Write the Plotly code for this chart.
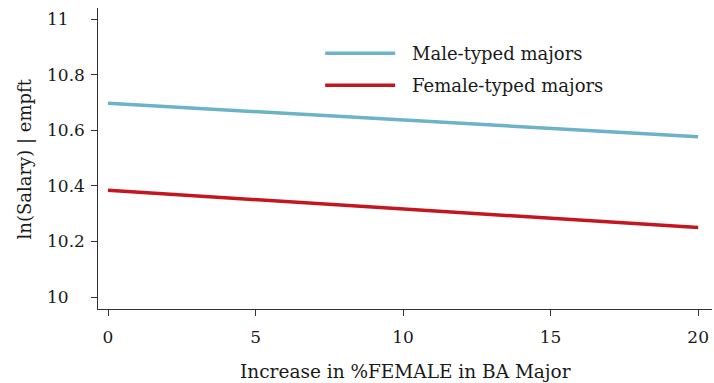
import plotly.graph_objects as go

# linear predictions at the ends of the %FEMALE range
pct_female = [0, 20]
male_typed = [10.697, 10.577]
female_typed = [10.384, 10.250]

series_names = ["Male-typed majors", "Female-typed majors"]
series_colors = ["#6CB2C9", "#C3161E"]

x_ticks = [0, 5, 10, 15, 20]
y_ticks = [10, 10.2, 10.4, 10.6, 10.8, 11]
y_tick_text = ["10", "10.2", "10.4", "10.6", "10.8", "11"]

FONT = "DejaVu Serif"
INK = "#1a1a1a"

fig = go.Figure()
for ys, name, col in zip([male_typed, female_typed], series_names, series_colors):
    fig.add_trace(
        go.Scatter(
            x=pct_female,
            y=ys,
            mode="lines",
            name=name,
            line=dict(color=col, width=3.5),
            showlegend=False,
        )
    )

# hand-drawn legend (Stata style long keys)
for i, (name, col) in enumerate(zip(series_names, series_colors)):
    yy = 0.85 - i * 0.107
    fig.add_shape(
        type="line", xref="paper", yref="paper",
        x0=0.37, x1=0.484, y0=yy, y1=yy,
        line=dict(color=col, width=3.5),
    )
    fig.add_annotation(
        xref="paper", yref="paper", x=0.508, y=yy, text=name,
        showarrow=False, xanchor="left", yanchor="middle",
        font=dict(family=FONT, size=18, color=INK),
    )

# y tick labels are left aligned in the original
for v, t in zip(y_ticks, y_tick_text):
    fig.add_annotation(
        xref="paper", yref="y", x=-0.087, y=v, text=t,
        showarrow=False, xanchor="left", yanchor="middle",
        font=dict(family=FONT, size=17, color=INK),
    )

# axis titles
fig.add_annotation(
    xref="paper", yref="paper", x=-0.119, y=0.5, text="ln(Salary) | empft",
    textangle=-90, showarrow=False, xanchor="center", yanchor="middle",
    font=dict(family=FONT, size=18, color=INK),
)
fig.add_annotation(
    xref="paper", yref="paper", x=0.5, y=-0.209, text="Increase in %FEMALE in BA Major",
    showarrow=False, xanchor="center", yanchor="middle",
    font=dict(family=FONT, size=18.5, color=INK),
)

fig.update_layout(
    width=714,
    height=383,
    margin=dict(l=98, r=2, t=8, b=74),
    plot_bgcolor="white",
    paper_bgcolor="white",
    font=dict(family=FONT, size=17, color=INK),
    xaxis=dict(
        range=[-0.339, 20.47],
        tickvals=x_ticks,
        ticks="outside",
        ticklen=6,
        tickwidth=1.3,
        tickcolor="#333",
        showline=True,
        linecolor="#333",
        linewidth=1.3,
        showgrid=False,
        zeroline=False,
        automargin=False,
        ticklabelstandoff=6,
    ),
    yaxis=dict(
        range=[9.957, 11.04],
        tickvals=y_ticks,
        showticklabels=False,
        ticks="outside",
        ticklen=6,
        tickwidth=1.3,
        tickcolor="#333",
        showline=True,
        linecolor="#333",
        linewidth=1.3,
        showgrid=False,
        zeroline=False,
        automargin=False,
    ),
)

# drop the default body margin so the figure sits at the window's corner
fig.write_html(
    "out.html",
    config={"displayModeBar": False},
    post_script="document.body.style.margin='0';",
)
